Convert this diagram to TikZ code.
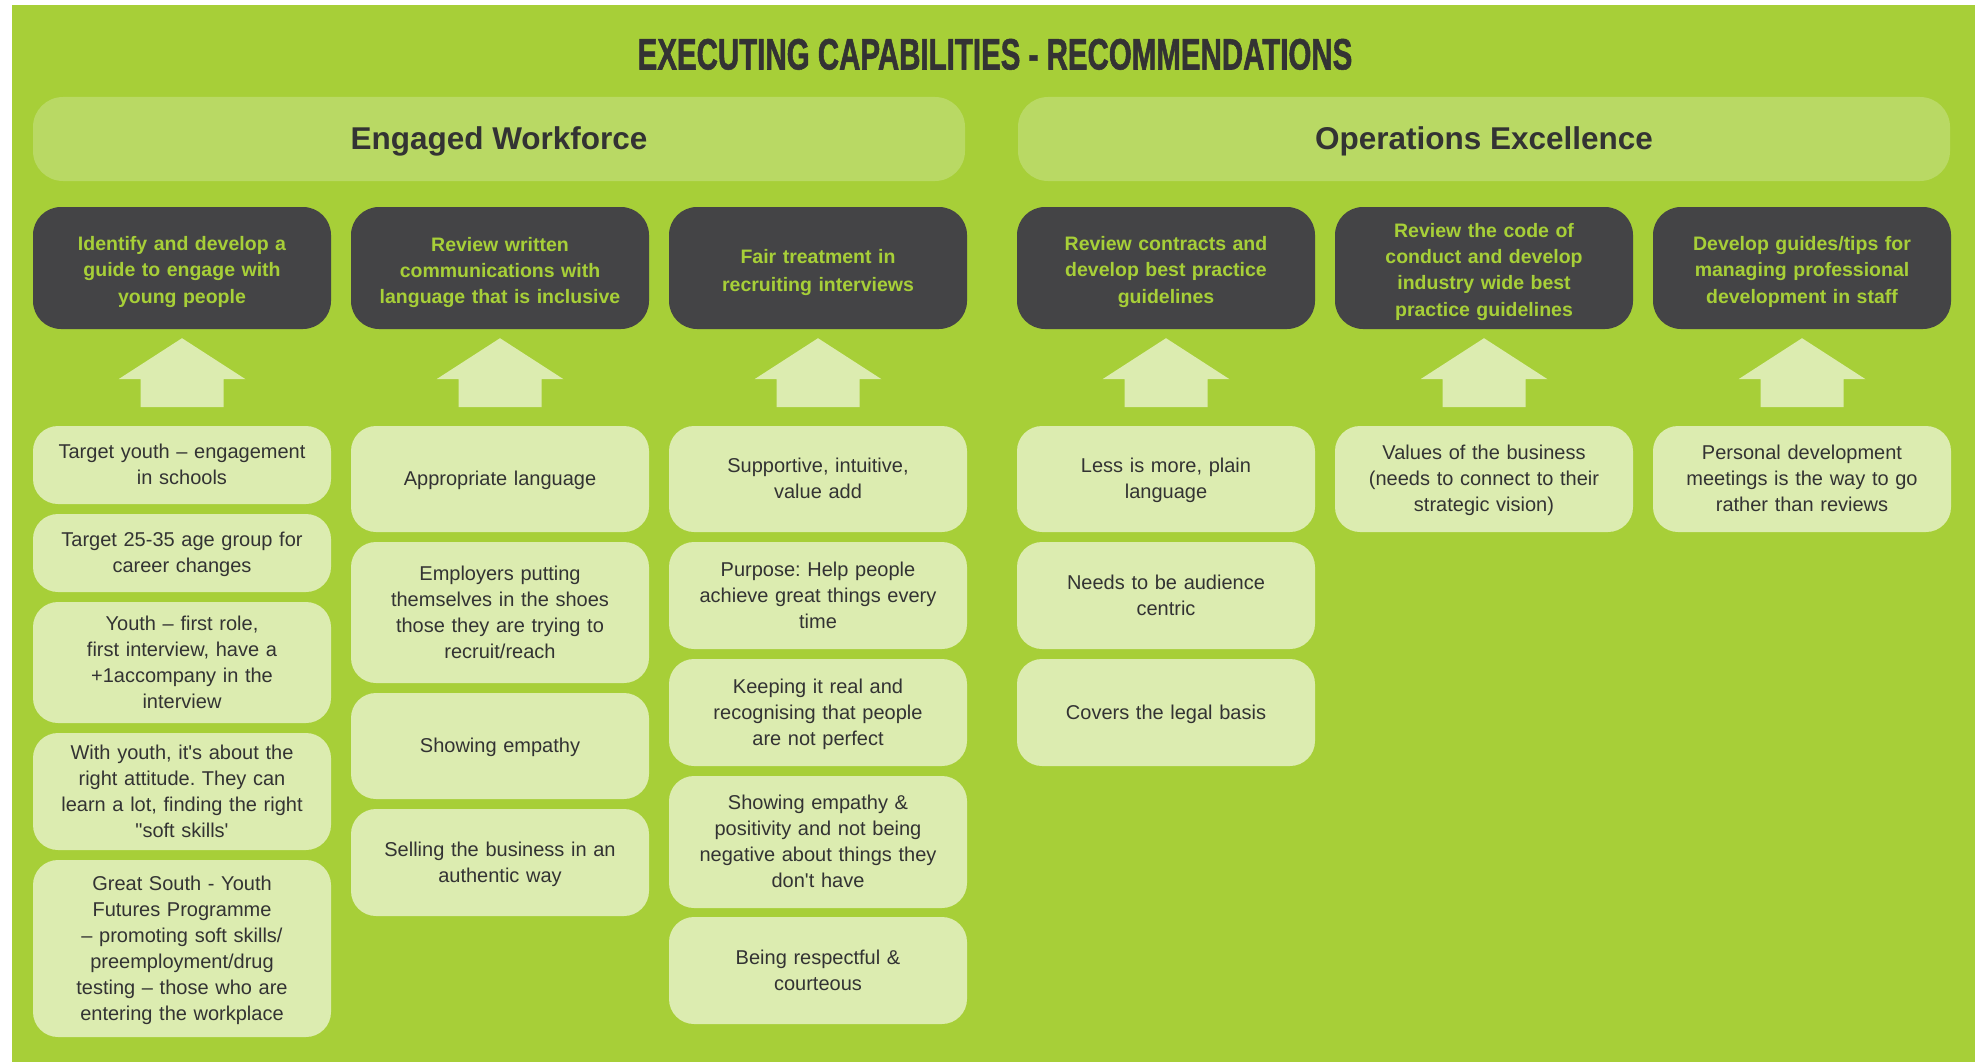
\documentclass[tikz,border=0pt]{standalone}
\usepackage{fontspec}
\setmainfont{Liberation Sans}
\newfontfamily\titlefont[FakeStretch=0.67,BoldFeatures={FakeBold=1.2}]{Liberation Sans}
\font\qfont="Liberation Sans" at 20pt
\usetikzlibrary{calc}
\frenchspacing
\definecolor{bg}{HTML}{A7CF38}
\definecolor{headbar}{HTML}{B9D964}
\definecolor{darkbox}{HTML}{444446}
\definecolor{lightbox}{HTML}{DCECB0}
\definecolor{txt}{HTML}{333333}
\newcommand{\aq}{{\qfont\char"27}}
\newcommand{\dq}{{\qfont\char"22}}
\newcommand{\lstrut}{\rule[-5.4pt]{0pt}{24.6pt}}
\newcommand{\dstrut}{\rule[-4.5pt]{0pt}{27pt}}
\newcommand{\hstrut}{\rule[-7pt]{0pt}{34.6pt}}
\tikzset{
  dbox/.style={fill=darkbox, rounded corners=28pt, minimum width=298pt, minimum height=122pt,
    text width=280pt, align=center, inner sep=0pt, text=bg, font=\fontsize{19.5}{26}\selectfont\bfseries,
    execute at begin node=\dstrut, execute at end node=\dstrut},
  lbox/.style={fill=lightbox, rounded corners=25pt, minimum width=298pt, text width=280pt,
    align=center, inner sep=0pt, text=txt, font=\fontsize{20}{26}\selectfont,
    execute at begin node=\lstrut, execute at end node=\lstrut},
  hbar/.style={fill=headbar, rounded corners=30pt, minimum width=932pt, minimum height=84pt,
    inner sep=0pt, text=txt, font=\fontsize{31.5}{36}\selectfont\bfseries,
    execute at begin node=\hstrut},
  uparrow/.style={fill=lightbox}
}
% \lb{name}{cx}{top}{bottom}{text}
\newcommand{\lb}[5]{\node[lbox, minimum height={#4pt-#3pt}] (#1) at (#2,{(#3+#4)/2}) {#5};}
\begin{document}
\begin{tikzpicture}[x=1pt,y=-1pt]
\useasboundingbox (0,0) rectangle (1975,1062);
\fill[bg] (12,5) rectangle (1975,1062);
\node[anchor=base, text=txt, font=\titlefont\bfseries\fontsize{44}{50}\selectfont] (title) at (995,69.5) {EXECUTING CAPABILITIES - RECOMMENDATIONS};
\node[hbar] (ew) at (499,139) {Engaged Workforce};
\node[hbar] (oe) at (1484,139) {Operations Excellence};
% dark boxes
\node[dbox] (d1) at (182,268) {Identify and develop a\\guide to engage with\\young people};
\node[dbox] (d2) at (500,268) {Review written\\communications with\\language that is inclusive};
\node[dbox] (d3) at (818,268) {Fair treatment in\\recruiting interviews};
\node[dbox] (d4) at (1166,268) {Review contracts and\\develop best practice\\guidelines};
\node[dbox] (d5) at (1484,268) {Review the code of\\conduct and develop\\industry wide best\\practice guidelines};
\node[dbox] (d6) at (1802,268) {Develop guides/tips for\\managing professional\\development in staff};
% arrows
\foreach \n in {d1,d2,d3,d4,d5,d6}
  \fill[uparrow] ($(\n.south)+(0,9)$) -- ++(63.5,41) -- ++(-22,0) -- ++(0,28) -- ++(-83,0) -- ++(0,-28) -- ++(-22,0) -- cycle;
% column 1
\lb{a1}{182}{426}{504}{Target youth – engagement\\in schools}
\lb{a2}{182}{514}{592}{Target 25-35 age group for\\career changes}
\lb{a3}{182}{602}{723}{Youth – first role,\\first interview, have a\\+1accompany in the\\interview}
\lb{a4}{182}{733}{850}{With youth, it\aq s about the\\right attitude. They can\\learn a lot, finding the right\\\dq soft skills\aq}
\lb{a5}{182}{860}{1037}{Great South - Youth\\Futures Programme\\– promoting soft skills/\\preemployment/drug\\testing – those who are\\entering the workplace}
% column 2
\lb{b1}{500}{426}{532}{Appropriate language}
\lb{b2}{500}{542}{683}{Employers putting\\themselves in the shoes\\those they are trying to\\recruit/reach}
\lb{b3}{500}{693}{799}{Showing empathy}
\lb{b4}{500}{809}{916}{Selling the business in an\\authentic way}
% column 3
\lb{c1}{818}{426}{532}{Supportive, intuitive,\\value add}
\lb{c2}{818}{542}{649}{Purpose: Help people\\achieve great things every\\time}
\lb{c3}{818}{659}{766}{Keeping it real and\\recognising that people\\are not perfect}
\lb{c4}{818}{776}{908}{Showing empathy \&\\positivity and not being\\negative about things they\\don\aq t have}
\lb{c5}{818}{917}{1024}{Being respectful \&\\courteous}
% column 4
\lb{e1}{1166}{426}{532}{Less is more, plain\\language}
\lb{e2}{1166}{542}{649}{Needs to be audience\\centric}
\lb{e3}{1166}{659}{766}{Covers the legal basis}
% column 5, 6
\lb{f1}{1484}{426}{532}{Values of the business\\(needs to connect to their\\strategic vision)}
\lb{g1}{1802}{426}{532}{Personal development\\meetings is the way to go\\rather than reviews}
\end{tikzpicture}
\end{document}
